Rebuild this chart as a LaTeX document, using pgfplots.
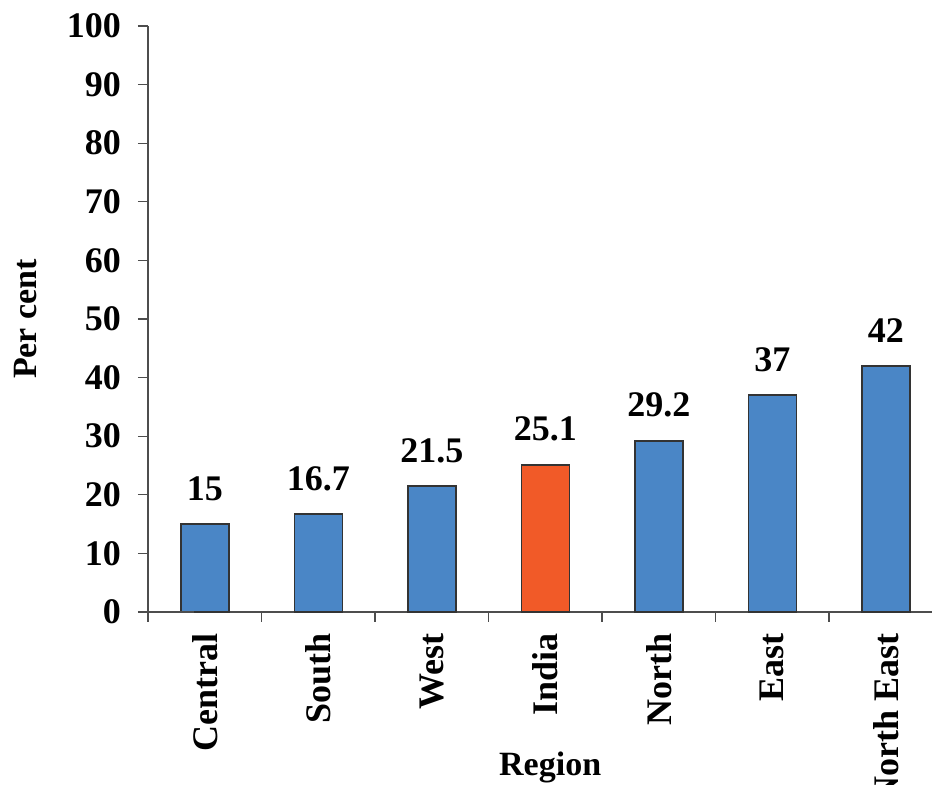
\documentclass[border=0pt]{standalone}
\usepackage{pgfplots}
\pgfplotsset{compat=1.18}
\usepackage{fontspec}
\setmainfont{Liberation Serif}
\definecolor{barblue}{HTML}{4A86C6}
\definecolor{barorange}{HTML}{F15A28}
\definecolor{axisgray}{HTML}{4D4D4D}
\begin{document}
\begin{tikzpicture}[font=\bfseries\fontsize{17}{20}\selectfont]
\begin{axis}[
  scale only axis, width=392pt, height=293pt,
  xmin=-0.5, xmax=6.407, ymin=0, ymax=100,
  axis lines*=left,
  axis line style={axisgray, line width=0.65pt},
  ytick={0,10,...,100},
  xtick={0,...,6},
  xticklabels={Central,South,West,India,North,East,North East},
  minor xtick={-0.5,0.5,...,5.5},
  tick align=outside,
  major tick length=5pt, minor tick length=5pt,
  major x tick style={draw=none},
  minor x tick style={axisgray, line width=0.65pt},
  ytick style={axisgray, line width=0.65pt},
  xticklabel style={yshift=-2pt, rotate=90, anchor=east, font=\bfseries\fontsize{18}{20}\selectfont},
  yticklabel style={anchor=east, xshift=-5pt, font=\bfseries\fontsize{18}{20}\selectfont},
  /pgf/number format/assume math mode=true,
  every axis y label/.style={at={(axis description cs:-0.156,0.5)}, rotate=90, anchor=center},
  every axis x label/.style={at={(axis description cs:0.513,-0.266)}, anchor=center},
  ylabel={Per cent}, xlabel={Region},
  clip=false,
  nodes near coords,
  point meta=explicit symbolic,
  nodes near coords style={anchor=south, yshift=8pt, font=\bfseries\fontsize{18}{20}\selectfont},
]
\addplot[ybar, bar width=24pt, bar shift=0pt, fill=barblue, draw=black!80, line width=0.75pt]
  coordinates {(0,15) [15] (1,16.7) [16.7] (2,21.5) [21.5] (4,29.2) [29.2] (5,37) [37] (6,42) [42]};
\addplot[ybar, bar width=24pt, bar shift=0pt, fill=barorange, draw=black!80, line width=0.75pt]
  coordinates {(3,25.1) [25.1]};
\draw[axisgray, line width=0.65pt] (axis cs:-0.5,0) -- ++(-5.5pt,0);
\coordinate (O) at (rel axis cs:0,0);
\end{axis}
\pgfresetboundingbox
\path ([shift={(-74pt,-86.5pt)}]O) rectangle ++(466pt,392.5pt);
\end{tikzpicture}
\end{document}
